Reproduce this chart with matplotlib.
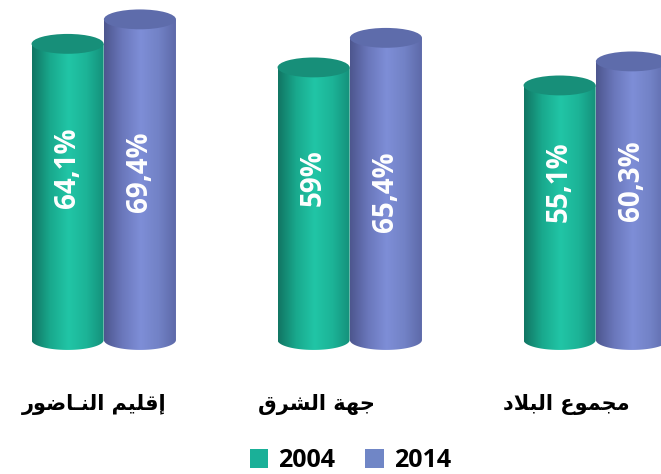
import matplotlib
matplotlib.use('Agg')
import matplotlib.pyplot as plt
import numpy as np
from matplotlib.patches import Ellipse, Polygon, Patch
from matplotlib.colors import LinearSegmentedColormap

# data
regions = ['إقليم النـاضور', 'جهة الشرق', 'مجموع البلاد']
years = ['2004', '2014']
v2004 = [64.1, 59, 55.1]
v2014 = [69.4, 65.4, 60.3]

# styles
body_stops = [['#117563', '#19a98d', '#21c5a6', '#1cb397', '#148f79'],
              ['#4d568e', '#6a77bb', '#7e8ed7', '#7282c6', '#5c68a7']]
cap_color = ['#178f79', '#5e6cab']
legend_color = ['#1ab098', '#7086c6']
label_y = [[37.2, 35.1, 34.2], [36.4, 32.0, 34.4]]
name_x = [-0.04, 0.865, 1.88]

# tiny arabic shaper (matplotlib has no bidi / joining support)
AR_FORMS = {
    'ا': ('\uFE8D', '\uFE8E'), 'إ': ('\uFE87', '\uFE88'),
    'د': ('\uFEA9', '\uFEAA'), 'ر': ('\uFEAD', '\uFEAE'),
    'و': ('\uFEED', '\uFEEE'), 'ة': ('\uFE93', '\uFE94'),
    'ب': ('\uFE8F', '\uFE90', '\uFE91', '\uFE92'),
    'ج': ('\uFE9D', '\uFE9E', '\uFE9F', '\uFEA0'),
    'ش': ('\uFEB5', '\uFEB6', '\uFEB7', '\uFEB8'),
    'ض': ('\uFEBD', '\uFEBE', '\uFEBF', '\uFEC0'),
    'ع': ('\uFEC9', '\uFECA', '\uFECB', '\uFECC'),
    'ق': ('\uFED5', '\uFED6', '\uFED7', '\uFED8'),
    'ل': ('\uFEDD', '\uFEDE', '\uFEDF', '\uFEE0'),
    'م': ('\uFEE1', '\uFEE2', '\uFEE3', '\uFEE4'),
    'ن': ('\uFEE5', '\uFEE6', '\uFEE7', '\uFEE8'),
    'ه': ('\uFEE9', '\uFEEA', '\uFEEB', '\uFEEC'),
    'ي': ('\uFEF1', '\uFEF2', '\uFEF3', '\uFEF4'),
    'ـ': ('ـ', 'ـ', 'ـ', 'ـ'),
    'لا': ('\uFEFB', '\uFEFC'), 'لإ': ('\uFEF9', '\uFEFA'),
}

def shape(text):
    toks = []
    i = 0
    while i < len(text):
        if text[i] == 'ل' and i + 1 < len(text) and text[i + 1] in 'اإ':
            toks.append(text[i:i + 2])
            i += 2
        else:
            toks.append(text[i])
            i += 1
    out = []
    for k, t in enumerate(toks):
        f = AR_FORMS.get(t)
        if f is None:
            out.append(t)
            continue
        prev = AR_FORMS.get(toks[k - 1]) if k > 0 else None
        nxt = AR_FORMS.get(toks[k + 1]) if k + 1 < len(toks) else None
        jp = prev is not None and len(prev) == 4
        jn = len(f) == 4 and nxt is not None
        out.append(f[{(0, 0): 0, (1, 0): 1, (0, 1): 2, (1, 1): 3}[(jp, jn)]])
    return ''.join(reversed(out))


fig = plt.figure(figsize=(6.61, 4.74), dpi=100)
ax = fig.add_axes([0, 0, 1, 1])
ax.set_axis_off()

x = np.arange(len(regions))
w = 0.293
off = 0.147
eh = 4.3  # ellipse height in data units
grad = np.linspace(0, 1, 256).reshape(1, -1)

for s, vals in enumerate([v2004, v2014]):
    cmap = LinearSegmentedColormap.from_list('c%d' % s, body_stops[s])
    xs = x + (off if s else -off)
    for cx, v in zip(xs, vals):
        t = np.linspace(np.pi, 2 * np.pi, 60)
        pts = np.column_stack([cx + w / 2 * np.cos(t), eh / 2 * np.sin(t)])
        pts = np.vstack([pts, [[cx + w / 2, v], [cx - w / 2, v]]])
        body = Polygon(pts, closed=True, facecolor='none', edgecolor='none')
        ax.add_patch(body)
        im = ax.imshow(grad, cmap=cmap, aspect='auto', interpolation='bilinear',
                       extent=[cx - w / 2, cx + w / 2, -eh / 2, v], zorder=2 + s)
        im.set_clip_path(body)
        ax.add_patch(Ellipse((cx, v), w, eh, facecolor=cap_color[s],
                             edgecolor='none', zorder=2 + s))

for s, vals in enumerate([v2004, v2014]):
    xs = x + (off if s else -off)
    for k, (cx, v) in enumerate(zip(xs, vals)):
        txt = ('%g' % v).replace('.', ',') + '%'
        ax.text(cx, label_y[s][k], txt, rotation=90, ha='center', va='center',
                color='white', fontsize=20, fontweight='bold',
                family=['Open Sans', 'DejaVu Sans'], zorder=5)

for nx, name in zip(name_x, regions):
    ax.text(nx, -13.9, shape(name), ha='center', va='center', fontsize=15,
            fontweight='bold', family=['DejaVu Sans'], color='black')

ax.set_xlim(-0.4218, -0.4218 + 661 / 246)
ax.set_ylim(-134 / 4.62, 340 / 4.62)

handles = [Patch(facecolor=legend_color[i], edgecolor='none', label=years[i]) for i in range(2)]
fig.legend(handles=handles, loc='center', bbox_to_anchor=(0.53, 0.028), ncol=2,
           frameon=False, handlelength=0.75, handleheight=0.75, handletextpad=0.4,
           columnspacing=1.2, prop={'family': 'Open Sans', 'weight': 'bold', 'size': 18})

fig.savefig('out.png', dpi=100)
